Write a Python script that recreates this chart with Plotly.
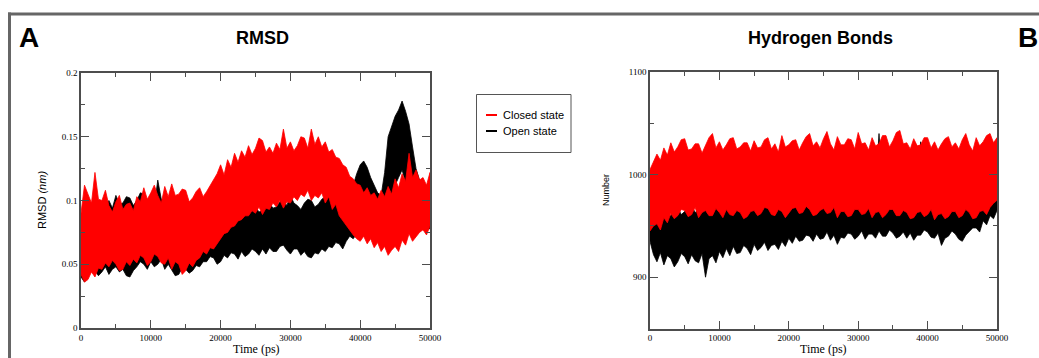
import plotly.graph_objects as go

W, H = 1039, 358

# ---------------- data (500 ps steps) ----------------
time_ps = [i * 500 for i in range(101)]

# RMSD (nm): lower / upper edge of the noisy trajectory
rmsd_closed_high = [0.090, 0.112, 0.105, 0.098, 0.122, 0.101, 0.100, 0.108, 0.096, 0.091,
                    0.099, 0.104, 0.093, 0.097, 0.098, 0.092, 0.103, 0.099, 0.110, 0.101,
                    0.106, 0.112, 0.104, 0.098, 0.111, 0.103, 0.113, 0.104, 0.105, 0.109,
                    0.108, 0.099, 0.102, 0.107, 0.110, 0.103, 0.107, 0.112, 0.116, 0.121,
                    0.128, 0.120, 0.132, 0.126, 0.137, 0.130, 0.139, 0.134, 0.143, 0.136,
                    0.141, 0.149, 0.147, 0.138, 0.142, 0.137, 0.145, 0.140, 0.156, 0.141,
                    0.146, 0.139, 0.143, 0.150, 0.149, 0.141, 0.156, 0.144, 0.150, 0.142,
                    0.146, 0.138, 0.140, 0.134, 0.133, 0.128, 0.126, 0.119, 0.117, 0.113,
                    0.112, 0.106, 0.110, 0.104, 0.106, 0.101, 0.108, 0.103, 0.111, 0.105,
                    0.117, 0.110, 0.121, 0.115, 0.137, 0.118, 0.124, 0.116, 0.118, 0.112,
                    0.122]
rmsd_closed_low = [0.042, 0.036, 0.038, 0.044, 0.040, 0.047, 0.046, 0.051, 0.048, 0.053,
                   0.050, 0.045, 0.046, 0.052, 0.049, 0.054, 0.051, 0.057, 0.055, 0.049,
                   0.052, 0.058, 0.056, 0.051, 0.050, 0.055, 0.046, 0.052, 0.050, 0.042,
                   0.045, 0.051, 0.048, 0.053, 0.055, 0.060, 0.058, 0.063, 0.062, 0.067,
                   0.070, 0.074, 0.075, 0.079, 0.080, 0.084, 0.085, 0.088, 0.088, 0.092,
                   0.090, 0.095, 0.089, 0.094, 0.093, 0.098, 0.095, 0.100, 0.094, 0.099,
                   0.098, 0.103, 0.100, 0.105, 0.103, 0.108, 0.100, 0.104, 0.102, 0.106,
                   0.098, 0.103, 0.093, 0.097, 0.088, 0.084, 0.081, 0.077, 0.073, 0.070,
                   0.068, 0.072, 0.066, 0.070, 0.063, 0.067, 0.060, 0.064, 0.057, 0.061,
                   0.064, 0.060, 0.069, 0.065, 0.074, 0.068, 0.071, 0.075, 0.077, 0.073,
                   0.080]
rmsd_open_high = [0.088, 0.094, 0.095, 0.090, 0.092, 0.097, 0.090, 0.096, 0.100, 0.094,
                  0.104, 0.097, 0.098, 0.103, 0.102, 0.096, 0.100, 0.106, 0.105, 0.099,
                  0.100, 0.095, 0.116, 0.101, 0.100, 0.096, 0.095, 0.100, 0.098, 0.093,
                  0.094, 0.099, 0.096, 0.091, 0.098, 0.094, 0.094, 0.090, 0.090, 0.094,
                  0.092, 0.096, 0.094, 0.099, 0.096, 0.092, 0.098, 0.101, 0.102, 0.097,
                  0.095, 0.091, 0.092, 0.096, 0.098, 0.094, 0.095, 0.099, 0.100, 0.096,
                  0.104, 0.098, 0.096, 0.093, 0.098, 0.101, 0.100, 0.095, 0.097, 0.101,
                  0.103, 0.108, 0.106, 0.102, 0.108, 0.104, 0.100, 0.106, 0.112, 0.121,
                  0.128, 0.131, 0.126, 0.118, 0.112, 0.106, 0.104, 0.122, 0.150, 0.158,
                  0.166, 0.171, 0.178, 0.170, 0.160, 0.142, 0.125, 0.116, 0.110, 0.108,
                  0.105]
rmsd_open_low = [0.040, 0.036, 0.042, 0.047, 0.045, 0.041, 0.044, 0.048, 0.042, 0.046,
                 0.048, 0.044, 0.046, 0.041, 0.040, 0.045, 0.048, 0.052, 0.050, 0.046,
                 0.052, 0.048, 0.050, 0.054, 0.046, 0.050, 0.045, 0.041, 0.042, 0.047,
                 0.046, 0.043, 0.045, 0.049, 0.048, 0.052, 0.052, 0.056, 0.055, 0.050,
                 0.052, 0.057, 0.055, 0.059, 0.058, 0.054, 0.060, 0.056, 0.058, 0.062,
                 0.060, 0.057, 0.062, 0.058, 0.063, 0.060, 0.060, 0.064, 0.065, 0.061,
                 0.058, 0.062, 0.062, 0.057, 0.060, 0.056, 0.055, 0.059, 0.058, 0.062,
                 0.060, 0.064, 0.063, 0.067, 0.066, 0.062, 0.068, 0.072, 0.070, 0.074,
                 0.076, 0.080, 0.078, 0.074, 0.072, 0.068, 0.066, 0.072, 0.088, 0.100,
                 0.112, 0.118, 0.124, 0.115, 0.105, 0.092, 0.085, 0.082, 0.080, 0.077,
                 0.078]

# Hydrogen bonds (number)
hb_closed_high = [1005, 1012, 1020, 1014, 1026, 1019, 1031, 1022, 1027, 1034,
                  1035, 1024, 1025, 1030, 1030, 1021, 1028, 1036, 1040, 1026,
                  1032, 1024, 1029, 1035, 1036, 1025, 1027, 1031, 1031, 1023,
                  1033, 1026, 1027, 1034, 1036, 1025, 1030, 1022, 1038, 1027,
                  1029, 1033, 1034, 1024, 1031, 1037, 1040, 1028, 1032, 1026,
                  1035, 1042, 1030, 1024, 1037, 1029, 1029, 1035, 1034, 1025,
                  1041, 1030, 1031, 1024, 1036, 1028, 1030, 1038, 1038, 1027,
                  1033, 1041, 1043, 1030, 1031, 1025, 1035, 1028, 1029, 1036,
                  1036, 1026, 1032, 1024, 1030, 1035, 1037, 1027, 1031, 1025,
                  1034, 1040, 1029, 1023, 1036, 1028, 1032, 1038, 1040, 1031,
                  1036]
hb_closed_low = [945, 950, 952, 946, 958, 953, 962, 957, 960, 966,
                 965, 959, 961, 968, 958, 963, 965, 960, 960, 967,
                 963, 958, 966, 961, 960, 965, 963, 957, 959, 964,
                 965, 960, 962, 968, 967, 961, 960, 966, 964, 958,
                 962, 967, 968, 962, 963, 969, 966, 960, 961, 965,
                 967, 962, 963, 968, 958, 964, 964, 959, 960, 966,
                 966, 961, 962, 967, 958, 963, 964, 958, 961, 966,
                 966, 960, 960, 965, 963, 957, 958, 963, 964, 959,
                 961, 966, 956, 961, 962, 957, 959, 964, 964, 958,
                 960, 966, 963, 957, 958, 964, 965, 961, 968, 972,
                 975]
hb_open_high = [958, 964, 962, 957, 965, 960, 960, 966, 968, 961,
                964, 969, 970, 963, 966, 972, 972, 965, 968, 974,
                975, 967, 970, 976, 973, 966, 968, 974, 976, 969,
                971, 977, 978, 970, 972, 979, 976, 970, 980, 973,
                975, 981, 982, 975, 978, 984, 981, 975, 984, 978,
                978, 985, 982, 976, 980, 986, 985, 979, 978, 984,
                983, 977, 986, 980, 980, 987, 1040, 982, 985, 979,
                982, 988, 988, 981, 980, 986, 985, 979, 1032, 984,
                982, 988, 986, 980, 980, 987, 1030, 983, 984, 979,
                988, 982, 982, 989, 986, 981, 990, 985, 992, 988,
                995]
hb_open_low = [935, 922, 915, 924, 912, 921, 918, 910, 915, 923,
               920, 913, 922, 916, 914, 923, 900, 918, 921, 914,
               925, 919, 928, 921, 930, 923, 924, 931, 928, 922,
               932, 926, 929, 934, 926, 931, 932, 927, 935, 930,
               938, 933, 940, 935, 936, 941, 940, 935, 942, 937,
               938, 944, 936, 941, 932, 939, 938, 943, 942, 937,
               940, 945, 937, 942, 942, 938, 945, 940, 940, 946,
               943, 938, 940, 944, 938, 943, 936, 941, 941, 946,
               944, 939, 938, 943, 931, 938, 940, 945, 942, 937,
               935, 941, 944, 948, 948, 944, 955, 951, 960, 957,
               965]

series_names = ["Closed state", "Open state"]
series_colors = ["#ff0000", "#000000"]

x_ticks = [0, 10000, 20000, 30000, 40000, 50000]
x_ticklabels = ["0", "10000", "20000", "30000", "40000", "50000"]
rmsd_ticks = [0, 0.05, 0.1, 0.15, 0.2]
rmsd_ticklabels = ["0", "0.05", "0.1", "0.15", "0.2"]
hb_ticks = [900, 1000, 1100]
hb_ticklabels = ["900", "1000", "1100"]


def px(x):
    return x / W


def py(y):
    return 1 - y / H


def band(t, lo, hi, name, color, xa, ya):
    # noisy trajectory drawn as its lower/upper edge outline, filled
    xs = list(t) + list(t)[::-1]
    ys = list(hi) + list(lo)[::-1]
    return go.Scatter(x=xs, y=ys, mode="lines", fill="toself", fillcolor=color,
                      line=dict(color=color, width=0.8), name=name, legendgroup=name,
                      showlegend=False, xaxis=xa, yaxis=ya, hoverinfo="skip")


traces = [
    band(time_ps, rmsd_open_low, rmsd_open_high, series_names[1], series_colors[1], "x", "y"),
    band(time_ps, rmsd_closed_low, rmsd_closed_high, series_names[0], series_colors[0], "x", "y"),
    band(time_ps, hb_open_low, hb_open_high, series_names[1], series_colors[1], "x2", "y2"),
    band(time_ps, hb_closed_low, hb_closed_high, series_names[0], series_colors[0], "x2", "y2"),
]

fig = go.Figure(traces)

axis_color = "#4d4d4d"
tick_font = dict(family="Liberation Serif", size=9, color="black")
common_x = dict(range=[0, 50000], tickvals=x_ticks, ticktext=x_ticklabels,
                showline=True, linecolor=axis_color, linewidth=1.5, mirror="allticks",
                ticks="inside", ticklen=8, tickwidth=1.2, tickcolor=axis_color,
                minor=dict(ticks="inside", ticklen=4, dtick=5000, tickcolor=axis_color, tickwidth=1.2),
                showgrid=False, zeroline=False, tickfont=tick_font)
common_y = dict(showline=True, linecolor=axis_color, linewidth=1.5, mirror="allticks",
                ticks="inside", ticklen=8, tickwidth=1.2, tickcolor=axis_color,
                showgrid=False, zeroline=False, tickfont=tick_font)

fig.update_layout(
    autosize=True, margin=dict(l=0, r=0, t=0, b=0, autoexpand=False),
    paper_bgcolor="white", plot_bgcolor="white", showlegend=False,
    xaxis=dict(domain=[px(81), px(430)], anchor="y", **common_x),
    yaxis=dict(domain=[py(328), py(73)], anchor="x", range=[0, 0.2],
               tickvals=rmsd_ticks, ticktext=rmsd_ticklabels,
               minor=dict(ticks="inside", ticklen=4, dtick=0.025, tickcolor=axis_color, tickwidth=1.2),
               **common_y),
    xaxis2=dict(domain=[px(650), px(997)], anchor="y2", **common_x),
    yaxis2=dict(domain=[py(328.5), py(72)], anchor="x2", range=[850, 1100],
                tickvals=hb_ticks, ticktext=hb_ticklabels,
                minor=dict(ticks="inside", ticklen=4, dtick=50, tickcolor=axis_color, tickwidth=1.2),
                **common_y),
)

shapes = [
    # gray panel frame
    dict(type="line", xref="paper", yref="paper", x0=px(8), x1=1.0, y0=py(14), y1=py(14),
         line=dict(color="#666666", width=3)),
    dict(type="line", xref="paper", yref="paper", x0=px(9.5), x1=px(9.5), y0=py(12.5), y1=0,
         line=dict(color="#666666", width=3)),
    # legend box
    dict(type="rect", xref="paper", yref="paper", x0=px(476.5), x1=px(571), y0=py(152.5), y1=py(94.5),
         line=dict(color="#555555", width=1), fillcolor="white"),
    dict(type="line", xref="paper", yref="paper", x0=px(486), x1=px(497), y0=py(115), y1=py(115),
         line=dict(color=series_colors[0], width=2)),
    dict(type="line", xref="paper", yref="paper", x0=px(486), x1=px(497), y0=py(131), y1=py(131),
         line=dict(color=series_colors[1], width=2)),
]

sans = "Liberation Sans"
annotations = [
    dict(text="<b>A</b>", x=px(29), y=py(37), font=dict(family=sans, size=28, color="black")),
    dict(text="<b>B</b>", x=px(1028), y=py(37), font=dict(family=sans, size=28, color="black")),
    dict(text="<b>RMSD</b>", x=px(262), y=py(38), font=dict(family=sans, size=18, color="black")),
    dict(text="<b>Hydrogen Bonds</b>", x=px(820), y=py(38), font=dict(family=sans, size=18, color="black")),
    dict(text="RMSD <i>(nm)</i>", x=px(42), y=py(200), textangle=-90,
         font=dict(family=sans, size=11, color="black")),
    dict(text="Number", x=px(606), y=py(190), textangle=-90,
         font=dict(family=sans, size=9, color="black")),
    dict(text="Time (ps)", x=px(256), y=0, yanchor="bottom",
         font=dict(family="Liberation Serif", size=12, color="black")),
    dict(text="Time (ps)", x=px(823), y=0, yanchor="bottom",
         font=dict(family="Liberation Serif", size=12, color="black")),
    dict(text=series_names[0], x=px(501), y=py(115), xanchor="left",
         font=dict(family=sans, size=11, color="black")),
    dict(text=series_names[1], x=px(501), y=py(131), xanchor="left",
         font=dict(family=sans, size=11, color="black")),
]
for a in annotations:
    a.setdefault("xref", "paper")
    a.setdefault("yref", "paper")
    a.setdefault("showarrow", False)
    a.setdefault("xanchor", "center")
    a.setdefault("yanchor", "middle")

fig.update_layout(shapes=shapes, annotations=annotations)
fig.write_html(
    "out.html",
    config={"displayModeBar": False},
    default_width="100vw",
    default_height="100vh",
    post_script=(
        "document.documentElement.style.margin='0';"
        "document.documentElement.style.overflow='hidden';"
        "document.body.style.margin='0';"
        "document.body.style.overflow='hidden';"
        "var d=document.getElementById('{plot_id}');"
        "d.style.position='fixed';d.style.left='0px';d.style.top='0px';"
    ),
)
